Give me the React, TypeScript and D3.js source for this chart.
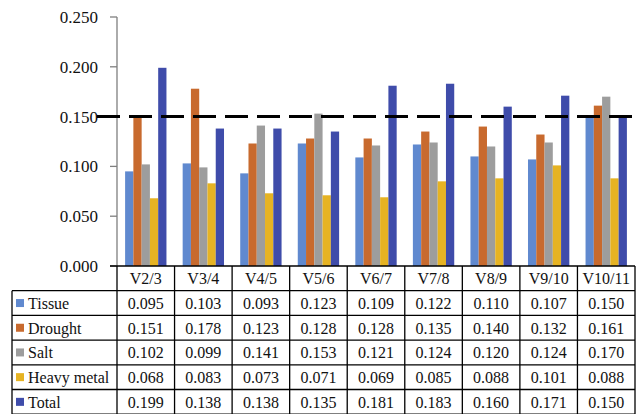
import React from "react";
import * as d3 from "d3";

const categories = ["V2/3", "V3/4", "V4/5", "V5/6", "V6/7", "V7/8", "V8/9", "V9/10", "V10/11"];
const seriesNames = ["Tissue", "Drought", "Salt", "Heavy metal", "Total"];
const tissue = [0.095, 0.103, 0.093, 0.123, 0.109, 0.122, 0.11, 0.107, 0.15];
const drought = [0.151, 0.178, 0.123, 0.128, 0.128, 0.135, 0.14, 0.132, 0.161];
const salt = [0.102, 0.099, 0.141, 0.153, 0.121, 0.124, 0.12, 0.124, 0.17];
const heavyMetal = [0.068, 0.083, 0.073, 0.071, 0.069, 0.085, 0.088, 0.101, 0.088];
const total = [0.199, 0.138, 0.138, 0.135, 0.181, 0.183, 0.16, 0.171, 0.15];
const yTicks = [0, 0.05, 0.1, 0.15, 0.2, 0.25];
const threshold = 0.15;

const seriesValues = [tissue, drought, salt, heavyMetal, total];
const colors = ["#6089cf", "#c86a2e", "#9d9d9d", "#e6b323", "#3f4caa"];

const W = 636;
const H = 414;
const left = 117;
const right = 635;
const top = 17;
const bottom = 266;
const tableLeft = 12;
const rowH = 24.7;
const font = '"Liberation Serif"';

export default function App() {
  const x = d3.scaleBand<string>().domain(categories).range([left, right]).paddingInner(0).paddingOuter(0);
  const xi = d3
    .scaleBand<string>()
    .domain(seriesNames)
    .range([0, x.bandwidth()])
    .paddingInner(0)
    .paddingOuter(0.98);
  const y = d3.scaleLinear().domain([0, 0.25]).range([bottom, top]);

  const rowsTop = bottom + rowH;
  const tableBottom = bottom + rowH * 6;
  const ts = { fontFamily: font };

  return (
    <svg width={W} height={H} style={{ position: "fixed", left: 0, top: 0, background: "#fff" }}>
      <rect x={0} y={0} width={W} height={H} fill="#fff" />
      {categories.map((c, ci) => (
        <g key={c}>
          {seriesNames.map((s, si) => {
            const v = seriesValues[si][ci];
            return (
              <rect
                key={s}
                x={(x(c) as number) + (xi(s) as number)}
                y={y(v)}
                width={xi.bandwidth()}
                height={bottom - y(v)}
                fill={colors[si]}
              />
            );
          })}
        </g>
      ))}
      <line x1={left} x2={left} y1={top} y2={bottom} stroke="#7f7f7f" strokeWidth={1.3} />
      {yTicks.map((t) => (
        <g key={t}>
          <line x1={left - 7} x2={left} y1={y(t)} y2={y(t)} stroke="#7f7f7f" strokeWidth={1.3} />
          <text x={98} y={y(t)} dy="0.35em" textAnchor="end" fontSize={17} fill="#111" style={ts}>
            {d3.format(".3f")(t)}
          </text>
        </g>
      ))}
      <line
        x1={97}
        x2={634}
        y1={y(threshold)}
        y2={y(threshold)}
        stroke="#000"
        strokeWidth={3}
        strokeDasharray="23 9"
      />
      <g stroke="#000" strokeWidth={1.3} fill="none">
        <line x1={left - 7} x2={right} y1={bottom} y2={bottom} />
        {d3.range(6).map((r) => (
          <line key={r} x1={tableLeft} x2={right} y1={rowsTop + r * rowH} y2={rowsTop + r * rowH} />
        ))}
        <line x1={tableLeft} x2={tableLeft} y1={rowsTop} y2={tableBottom} />
        {categories.map((c) => (
          <line key={c} x1={x(c) as number} x2={x(c) as number} y1={bottom} y2={tableBottom} />
        ))}
        <line x1={right} x2={right} y1={bottom} y2={tableBottom} />
      </g>
      {categories.map((c) => (
        <text
          key={c}
          x={(x(c) as number) + x.bandwidth() / 2}
          y={bottom + rowH / 2}
          dy="0.36em"
          textAnchor="middle"
          fontSize={16}
          fill="#111"
          style={ts}
        >
          {c}
        </text>
      ))}
      {seriesNames.map((s, si) => (
        <g key={s}>
          <rect x={16} y={rowsTop + si * rowH + rowH / 2 - 4} width={8} height={8} fill={colors[si]} />
          <text x={28} y={rowsTop + si * rowH + rowH / 2} dy="0.36em" fontSize={16} fill="#111" style={ts}>
            {s}
          </text>
          {categories.map((c, ci) => (
            <text
              key={c}
              x={(x(c) as number) + x.bandwidth() / 2}
              y={rowsTop + si * rowH + rowH / 2}
              dy="0.36em"
              textAnchor="middle"
              fontSize={16}
              fill="#111"
              style={ts}
            >
              {d3.format(".3f")(seriesValues[si][ci])}
            </text>
          ))}
        </g>
      ))}
    </svg>
  );
}
